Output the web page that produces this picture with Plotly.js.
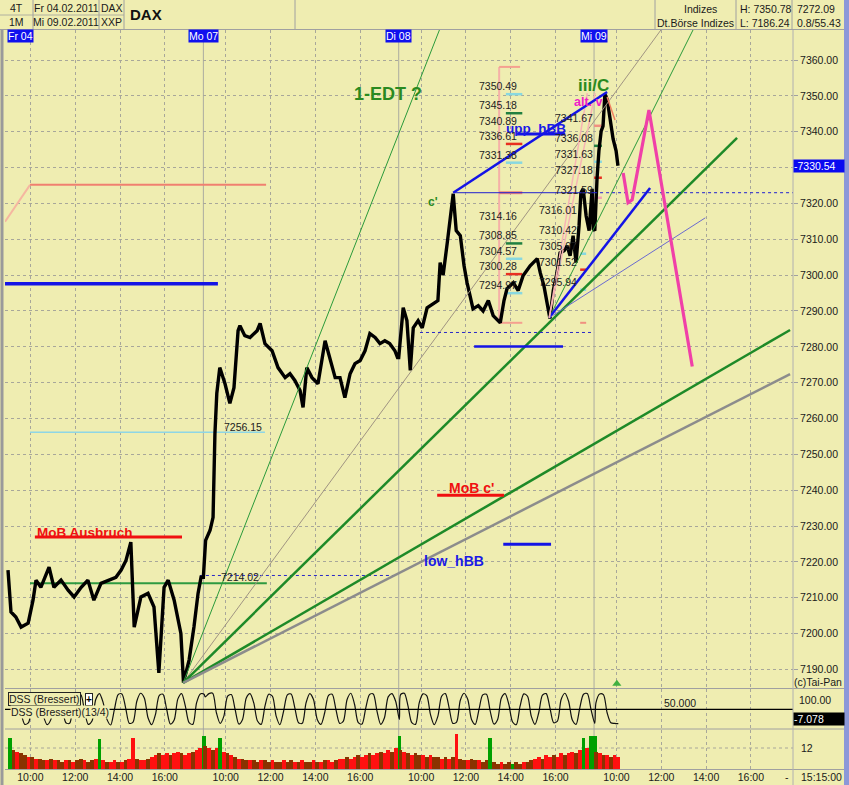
<!DOCTYPE html>
<html>
<head>
<meta charset="utf-8">
<script src="https://cdn.plot.ly/plotly-3.0.1.min.js"></script>
<style>
html,body{margin:0;padding:0;background:#EFEDB1;overflow:hidden}
#chart{width:849px;height:785px}
</style>
</head>
<body>
<div id="chart"></div>
<script>
// ================= DATA =================
const dayNames  = ['Fr','Mo','Di','Mi'];
const dayLabels = ['Fr 04','Mo 07','Di 08','Mi 09'];
const tickTimes = ['Fr 10:00','Fr 12:00','Fr 14:00','Fr 16:00','Mo 10:00','Mo 12:00','Mo 14:00','Mo 16:00',
                   'Di 10:00','Di 12:00','Di 14:00','Di 16:00','Mi 10:00','Mi 12:00','Mi 14:00','Mi 16:00'];
const tickLabels = ['10:00','12:00','14:00','16:00','10:00','12:00','14:00','16:00',
                    '10:00','12:00','14:00','16:00','10:00','12:00','14:00','16:00'];
const priceTicks = [7190,7200,7210,7220,7230,7240,7250,7260,7270,7280,7290,7300,7310,7320,7330,7340,7350,7360];
const lastPrice = 7330.54;

// DAX 1-minute chart, read as a close path
const priceTime = [
 'Fr 09:00','Fr 09:08','Fr 09:21','Fr 09:35','Fr 09:54','Fr 10:07','Fr 10:15','Fr 10:28','Fr 10:50','Fr 11:03',
 'Fr 11:22','Fr 11:41','Fr 11:57','Fr 12:16','Fr 12:34','Fr 12:50','Fr 13:09','Fr 13:28','Fr 13:49','Fr 14:03',
 'Fr 14:16','Fr 14:29','Fr 14:33','Fr 14:38','Fr 14:56','Fr 15:15','Fr 15:31','Fr 15:44','Fr 15:58','Fr 16:09',
 'Fr 16:25','Fr 16:43','Fr 16:50','Fr 17:05','Fr 17:18','Fr 17:29','Fr 17:37',
 'Mo 09:00','Mo 09:06','Mo 09:18','Mo 09:26','Mo 09:31','Mo 09:36','Mo 09:44','Mo 09:58','Mo 10:11','Mo 10:22',
 'Mo 10:33','Mo 10:38','Mo 10:51','Mo 11:05','Mo 11:24','Mo 11:32','Mo 11:45','Mo 12:04','Mo 12:20','Mo 12:39',
 'Mo 12:52','Mo 13:05','Mo 13:19','Mo 13:27','Mo 13:37','Mo 13:51','Mo 14:07','Mo 14:26','Mo 14:39','Mo 14:53',
 'Mo 15:06','Mo 15:19','Mo 15:33','Mo 15:46','Mo 16:00','Mo 16:13','Mo 16:26','Mo 16:40','Mo 16:53','Mo 17:06',
 'Mo 17:19','Mo 17:33','Mo 17:40',
 'Di 09:00','Di 09:12','Di 09:22','Di 09:31','Di 09:39','Di 09:52','Di 10:03','Di 10:16','Di 10:32','Di 10:45',
 'Di 10:51','Di 10:59','Di 11:10','Di 11:18','Di 11:26','Di 11:34','Di 11:45','Di 11:55','Di 12:03','Di 12:19',
 'Di 12:33','Di 12:46','Di 13:00','Di 13:13','Di 13:32','Di 13:42','Di 13:50','Di 14:07','Di 14:20','Di 14:33',
 'Di 14:52','Di 15:11','Di 15:19','Di 15:29','Di 15:40','Di 15:45','Di 15:54','Di 16:04','Di 16:12','Di 16:23',
 'Di 16:31','Di 16:39','Di 16:47','Di 16:55','Di 17:03','Di 17:08','Di 17:14','Di 17:22','Di 17:30','Di 17:38','Di 17:41',
 'Mi 09:02','Mi 09:08','Mi 09:13','Mi 09:19','Mi 09:24','Mi 09:29','Mi 09:35','Mi 09:43','Mi 09:51','Mi 09:59','Mi 10:04'];
const priceClose = [
 7217.7,7206.0,7204.6,7201.8,7202.9,7209.3,7214.9,7212.9,7218.5,7212.9,
 7214.9,7212.1,7210.2,7212.9,7214.9,7209.3,7214.0,7214.9,7215.7,7217.7,
 7220.4,7225.5,7214.0,7201.8,7210.2,7211.2,7207.4,7189.0,7212.9,7214.9,
 7209.3,7200.0,7186.3,7192.6,7201.8,7211.2,7215.7,
 7215.7,7226.0,7228.8,7232.4,7255.8,7267.0,7274.2,7269.7,7264.2,7268.6,
 7284.5,7285.9,7283.1,7282.6,7284.5,7286.5,7280.9,7278.9,7274.2,7271.4,
 7272.5,7270.6,7267.8,7263.1,7274.2,7271.4,7269.7,7281.7,7277.0,7271.4,
 7271.4,7265.8,7272.5,7275.3,7276.2,7278.9,7283.7,7282.6,7280.9,7281.7,
 7280.9,7278.9,7277.0,
 7277.0,7290.9,7287.3,7273.4,7285.3,7287.3,7285.3,7290.9,7292.0,7292.9,
 7303.5,7300.0,7309.0,7316.5,7322.7,7312.4,7311.0,7302.6,7297.9,7290.6,
 7291.5,7290.0,7292.9,7288.7,7286.7,7292.9,7296.2,7297.9,7295.7,7299.8,
 7302.6,7304.6,7300.7,7297.0,7290.0,7287.9,7295.7,7300.7,7306.2,7306.8,
 7308.2,7305.4,7311.0,7303.5,7313.8,7323.0,7324.1,7316.5,7312.4,7324.1,7312.9,
 7312.4,7327.1,7334.7,7340.2,7341.6,7350.5,7349.1,7343.6,7338.0,7334.7,7330.5];

// volume, 10-minute buckets (panel units, 12 = grid line)
const volFr = [18,11,10,9,8,7, 7,6,6,5,5,6, 5,5,4,5,5,4, 5,6,5,4,5,6, 17, 5,4,4,5,4,4,5,6, 18, 6,5,5,6,7,8,9,8, 9,8,9,10,9,8,9,10,11,12, 19];
const volMo = [13,12,11,12,18,10, 9,8,7,6,6,5, 5,5,4,5,5,4,5,4,4,5,4,5, 4,4,5,4,4,5,4,4,5,5,4,5, 6,6,7,6,7,8,7,8,9,8, 9,10,9,11,10,12, 19];
const volDi = [11,10,9,8,9,8, 8,7,8,7,7,6,7,6,7, 20, 6,5,5,6,5,5,4,5, 18, 4,3,4,3,4,3,4,3,4,4,5, 6,7,6,8,7,8,7,9,8,9,10,9,11, 18, 12,19,19];
const volMi = [10,9,8,8,7,8,7];
const volDirFr = 'gbrbbrbrbbrbrbbrbrbbrbbrgrbrrbrbrrbrrbrrbrrbrrbrrbrrg';
const volDirMo = 'brbrg'+'rbrbrbbrbbrbbrbbrbbrbrbbrbrbrrbrrbrrbrrbrrbrrbr'+'g';
const volDirDi = 'brbrbbrbrbbrbrbrbbrbbrbbgbbrbbgbbrbbrrbrrbrrbrrbrgrgg';
const volDirMi = 'brbrbrr';

// DSS (Bressert) 13/4, 10-minute samples
const dssFr = [60,95,98,40,5,10,70,97,90,30, 4,20,85,99,60,10,8,65,96,95, 45,5,15,80,98,70,20,3,50,95, 97,55,8,12,75,99,85,25,4,35, 92,96,50,6,18,82,98,60,10,5, 70,97,96];
const dssMo = [88,98,99,40,8,30,90,95,50,6, 20,85,98,70,15,5,60,96,90,30, 4,45,94,97,55,10,8,70,98,80, 20,5,40,92,96,50,8,15,80,99, 65,10,6,55,95,97,45,5,25,88, 98,75,20];
const dssDi = [95,99,60,10,5,70,97,92,35,4, 30,90,98,55,8,12,78,99,80,20, 5,50,94,96,45,6,20,85,98,65, 12,4,60,97,90,30,5,40,93,98, 55,10,15,80,99,75,18,5,55,96, 98,50,8];
const dssMi = [70,97,95,40,10,8,7];
const dssMid = 50;

// horizontal levels
const mobAusbruch = 7226.9, greenLevel = 7214.0, gapLevel = 7216.2, cyanLevel = 7256.15, blueOld = 7297.6;
const salmonTime = ['Fr 08:52','Fr 09:59','Mo 11:48'], salmonPrice = [7314.9,7325.2,7325.2];
const cHighTime = 'Di 11:26', cHigh = 7323.0, iiiCTime = 'Mi 09:35', iiiC = 7351.1;
const dayLow2Time = 'Di 15:43', dayLow2 = 7288.1;
const lowLevel = 7284.0, uppHBB = 7339.4, lowHBB = 7224.9, mobC = 7238.55, lowBlue = 7280.1;
const fanOriginTime = 'Fr 16:49', fanOrigin = 7186.24;
const fan1EndTime = ['Di 10:49','Mi 11:59','Mi 15:23','Mi 17:45','Mi 17:45'];
const fan1EndPrice = [7368.4,7368.4,7338.3,7284.7,7272.4];
const fan2EndTime = ['Mi 13:25','Mi 11:30','Mi 13:58','Di 17:25','Mi 09:03'];
const fan2EndPrice = [7368.4,7324.3,7316.0,7350.8,7350.8];
const projTime = ['Mi 10:18','Mi 10:31','Mi 10:42','Mi 11:27','Mi 13:23'];
const projPrice = [7328.5,7320.2,7321.0,7346.1,7274.5];
const fibA = [7350.49,7345.18,7340.89,7336.61,7331.38,7314.16,7308.85,7304.57,7300.28,7294.97];
const fibB = [7341.67,7336.08,7331.63,7327.18,7321.59,7316.01,7310.42,7305.97,7301.52,7295.94];
const bracketTop = 7358.1, bracketBottom = 7286.7;

// ================= RENDER =================
const SESSION = 8.72;
function tx(s){const p=s.split(' ');const hm=p[1].split(':');return dayNames.indexOf(p[0])*SESSION+(+hm[0])+(+hm[1])/60-9;}
function sessionTimes(day,n){const o=[];for(let i=0;i<n;i++){const m=540+i*10;o.push(day+' '+String(Math.floor(m/60)).padStart(2,'0')+':'+String(m%60).padStart(2,'0'));}return o;}
function P(px){return (px-5)/788;}
function Q(py){return (769-py)/739;}

const BG='#EFEDB1', GRID='#A8A79A', FONT='Arial, "Liberation Sans", sans-serif';
const traces=[];
function line(ts,ps,color,width,dash,axis){traces.push({type:'scatter',mode:'lines',x:ts.map(tx),y:ps,
  line:{color:color,width:width,dash:dash||'solid'},hoverinfo:'skip',xaxis:'x',yaxis:axis||'y'});}

// volume
const vTimes=[].concat(sessionTimes('Fr',volFr.length),sessionTimes('Mo',volMo.length),sessionTimes('Di',volDi.length),sessionTimes('Mi',volMi.length));
const vVals=[].concat(volFr,volMo,volDi,volMi);
const vDir=(volDirFr+volDirMo+volDirDi+volDirMi).split('');
const dirCol={r:'#FF1010',g:'#00A000',b:'#8A3300'};
traces.push({type:'bar',x:vTimes.map(t=>tx(t)+1/12),y:vVals,width:1/6,marker:{color:vDir.map(d=>dirCol[d]),line:{width:0}},
  xaxis:'x',yaxis:'y3',hoverinfo:'skip'});
// DSS
const dTimes=[].concat(sessionTimes('Fr',dssFr.length),sessionTimes('Mo',dssMo.length),sessionTimes('Di',dssDi.length),sessionTimes('Mi',dssMi.length));
traces.push({type:'scatter',mode:'lines',x:dTimes.map(t=>tx(t)+1/12),y:[].concat(dssFr,dssMo,dssDi,dssMi),
  line:{color:'#111',width:1.2,shape:'spline',smoothing:0.8},xaxis:'x',yaxis:'y2',hoverinfo:'skip'});
line(['Fr 08:50','Mi 18:00'],[dssMid,dssMid],'#000',1.2,'solid','y2');

// horizontal levels (left side)
line(salmonTime.slice(0,2),salmonPrice.slice(0,2),'#F5B6A0',2);
line(salmonTime.slice(1),salmonPrice.slice(1),'#F08070',2);
line(['Fr 08:52','Mo 09:39'],[blueOld,blueOld],'#1414E6',3.5);
line(['Fr 09:59','Mo 11:45'],[cyanLevel,cyanLevel],'#8ED6E6',1.5);
line(['Fr 17:34','Mo 17:39'],[gapLevel,gapLevel],'#2828C8',1,'3px,3px');
line(['Fr 09:59','Mo 11:50'],[greenLevel,greenLevel],'#2E9A40',2);
line(['Fr 10:12','Fr 16:46'],[mobAusbruch,mobAusbruch],'#F01010',3);

// fib bracket A
line(['Di 13:29','Di 13:29'],[bracketTop,bracketBottom],'#F5B0A8',2);
line(['Di 13:29','Di 14:25'],[bracketTop,bracketTop],'#F5A090',2);
line(['Di 13:29','Di 14:31'],[bracketBottom,bracketBottom],'#F5A090',2);
line(['Di 13:29','Di 14:31'],[cHigh,cHigh],'#F08878',3);
const fibAcol=['#88D8E0','#208040',null,'#E83020','#88D8E0',null,'#208040','#88D8E0','#E83020','#88D8E0'];
fibA.forEach((v,i)=>{if(fibAcol[i]) line(['Di 13:47','Di 14:31'],[v,v],fibAcol[i],2.5);});
const fibBcol=['#F09080','#208040','#88D8E0','#E83020','#F4A0B0',null,null,'#88D8E0','#E83020','#88D8E0'];
fibB.forEach((v,i)=>{if(!fibBcol[i])return; const t=i<5?['Mi 09:00','Mi 09:21']:['Di 17:06','Di 17:22']; line(t,[v,v],fibBcol[i],2.5);});
line(['Di 17:06','Di 17:22'],[bracketBottom,bracketBottom],'#F09080',2);

// price
traces.push({type:'scatter',mode:'lines',x:priceTime.map(tx),y:priceClose,line:{color:'#000',width:3.4},xaxis:'x',yaxis:'y',hoverinfo:'skip'});

// fan from Friday low
const f1col=['#2A9A3A','#A09482','#1E8A28','#1E8A28','#8C8C8C'], f1w=[1,1,2.5,2.5,2.5];
fan1EndTime.forEach((t,i)=>line([fanOriginTime,t],[fanOrigin,fan1EndPrice[i]],f1col[i],f1w[i]));
// fan from Tuesday low
const f2col=['#2A9A3A','#1414E6','#6A6AD0','#F7B4B4','#F7B4B4'], f2w=[1,2.5,1,1.5,1.5];
fan2EndTime.forEach((t,i)=>line([dayLow2Time,t],[dayLow2,fan2EndPrice[i]],f2col[i],f2w[i]));

// c' structure
line([cHighTime,iiiCTime],[cHigh,iiiC],'#1414E6',2.5);
line([cHighTime,'Mi 09:00'],[cHigh,cHigh],'#2020D0',1);
line(['Mi 09:00','Mi 18:00'],[cHigh,cHigh],'#2020D0',1,'3px,3px');
line(['Di 09:57','Mi 09:00'],[lowLevel,lowLevel],'#2828C8',1,'3px,3px');
line(['Di 14:17','Di 16:26'],[uppHBB,uppHBB],'#1414E6',3);
line(['Di 12:22','Di 16:20'],[lowBlue,lowBlue],'#1414E6',2.5);
line(['Di 10:43','Di 13:42'],[mobC,mobC],'#F01010',3);
line(['Di 13:40','Di 15:48'],[lowHBB,lowHBB],'#1414E6',3);
line(['Mi 09:35','Mi 09:56'],[7349.7,7343.3],'#F08060',1.5);
line(projTime,projPrice,'#F040A8',3.2);

// green marker at the bottom of price panel
traces.push({type:'scatter',mode:'markers',x:[tx('Mi 10:01')],y:[7186.0],marker:{symbol:'triangle-up',size:8,color:'#40B040'},
  cliponaxis:false,xaxis:'x',yaxis:'y',hoverinfo:'skip'});

// ---------- annotations ----------
const ann=[];
function txt(text,px,py,o){ann.push(Object.assign({text:text,xref:'paper',yref:'paper',x:P(px),y:Q(py),showarrow:false,
  xanchor:'center',yanchor:'middle',font:{family:FONT,size:10.5,color:'#1a1a1a'}},o||{}));}
// header
txt('4T',16,8); txt('1M',16,22);
txt('Fr 04.02.2011',66,8); txt('Mi 09.02.2011',66,22);
txt('DAX',112,8); txt('XXP',112,22);
txt('<b>DAX</b>',128,14,{xanchor:'left',font:{family:FONT,size:15,color:'#111'}});
txt('Indizes',700,9); txt('Dt.Börse Indizes',695,23);
txt('H: 7350.78',738,9,{xanchor:'left'}); txt('L: 7186.24',738,23,{xanchor:'left'});
txt('7272.09',795,9,{xanchor:'left'}); txt('0.8/55.43',795,23,{xanchor:'left'});
// day labels
dayLabels.forEach((d,i)=>{const px=8+22.4*tx(dayNames[i]+' 09:00');
  txt(d,i===0?7:px,35.5,{xanchor:i===0?'left':'center',bgcolor:'#1010EE',borderpad:0,font:{family:FONT,size:10.5,color:'#fff'}});});
// chart texts
txt('<b>1-EDT ?</b>',388,94,{font:{family:FONT,size:18,color:'#2A8A20'}});
txt("<b>c'</b>",433,202,{font:{family:FONT,size:12,color:'#2A8A20'}});
txt('<b>upp_hBB</b>',536,128,{font:{family:FONT,size:13.5,color:'#1A1AE6'}});
txt('<b>iii/C</b>',593,85,{font:{family:FONT,size:17,color:'#2A8A20'}});
txt('<b>alt. v</b>',588,102,{font:{family:FONT,size:12.5,color:'#F020C8'}});
txt('<b>MoB Ausbruch</b>',85,532,{font:{family:FONT,size:13.5,color:'#F01010'}});
txt("<b>MoB c'</b>",471,488,{font:{family:FONT,size:14,color:'#F01010'}});
txt('<b>low_hBB</b>',454,561,{font:{family:FONT,size:14,color:'#1A1AE6'}});
txt('7256.15',243,427,{font:{family:FONT,size:10.5,color:'#222'}});
txt('7214.02',240,577,{font:{family:FONT,size:10.5,color:'#222'}});
fibA.forEach(v=>ann.push({text:v.toFixed(2),xref:'x',yref:'y',x:tx('Di 12:30'),y:v,yshift:8,xanchor:'left',yanchor:'middle',showarrow:false,font:{family:FONT,size:10.5,color:'#222'}}));
fibB.forEach((v,i)=>ann.push({text:v.toFixed(2),xref:'x',yref:'y',x:tx(i<5?'Di 15:53':'Di 15:11'),y:v,yshift:8,xanchor:'left',yanchor:'middle',showarrow:false,font:{family:FONT,size:10.5,color:'#222'}}));
// right column
ann.push({text:'-'+lastPrice.toFixed(2),xref:'paper',yref:'y',x:P(793),y:lastPrice,xanchor:'left',yanchor:'middle',showarrow:false,
  bgcolor:'#0A0AF0',width:50,align:'left',borderpad:0,font:{family:FONT,size:10.5,color:'#fff'}});
txt('(c)Tai-Pan',818,682);
txt('100.00',797,700,{xanchor:'left'});
txt('-7.078',793,719,{xanchor:'left',bgcolor:'#000',width:50,align:'left',borderpad:0,font:{family:FONT,size:10.5,color:'#fff'}});
txt('12',799,748,{xanchor:'left'});
txt('-',787,777); txt('15:15:00',799,777,{xanchor:'left'});
txt('50.000',680,703);
// DSS legend
txt('DSS (Bressert)',8,699,{xanchor:'left',bgcolor:BG,bordercolor:'#222',borderwidth:1,borderpad:0});
txt('<b>+</b>',85,699,{xanchor:'left',bgcolor:'#fff',bordercolor:'#222',borderwidth:1,borderpad:0,font:{family:FONT,size:10,color:'#000'}});
txt('DSS (Bressert)(13/4)',10,712,{xanchor:'left',bgcolor:BG,borderpad:0});

// ---------- shapes ----------
const shp=[];
function pl(x0,y0,x1,y1,color,w,dash){shp.push({type:'line',xref:'paper',yref:'paper',x0:P(x0),y0:Q(y0),x1:P(x1),y1:Q(y1),line:{color:color,width:w||1,dash:dash||'solid'},layer:'above'});}
// header grid
pl(0,29.5,849,29.5,'#A0A0A0',1);
pl(0,15,124,15,'#B0B0A0',1);
[33,99,124,295,655,736,792].forEach(x=>pl(x,0,x,29.5,'#A0A0A0',1));
// panel separators
pl(5,688.5,844,688.5,'#A0A0A0',1);
pl(5,729,844,729,'#A0A0A0',1);
pl(5,769.5,844,769.5,'#A0A0A0',1);
pl(793,30,793,785,'#B0B0B0',1);
// borders
pl(2,30,2,785,'#9A9A9A',3);
shp.push({type:'rect',xref:'paper',yref:'paper',x0:P(844),x1:P(850),y0:Q(786),y1:Q(-1),fillcolor:'#8C98D8',line:{width:0},layer:'above'});
// day separators
[1,2,3].forEach(d=>shp.push({type:'line',xref:'x',yref:'paper',x0:d*SESSION,x1:d*SESSION,y0:0,y1:1,line:{color:'#ABABA0',width:1},layer:'below'}));
// volume grid at 12
shp.push({type:'line',xref:'paper',yref:'y3',x0:0,x1:1,y0:12,y1:12,line:{color:GRID,width:1,dash:'3px,3px'},layer:'below'});

const layout={
  width:849,height:785,margin:{l:5,r:56,t:30,b:16,pad:0},
  paper_bgcolor:BG,plot_bgcolor:BG,showlegend:false,hovermode:false,bargap:0,
  font:{family:FONT,size:10.5,color:'#1a1a1a'},
  xaxis:{domain:[0,1],anchor:'y3',range:[-0.134,35.04],tickmode:'array',tickvals:tickTimes.map(tx),ticktext:tickLabels,
    showgrid:true,gridcolor:GRID,gridwidth:1,griddash:'3px,3px',zeroline:false,showline:false,ticks:'',
    tickfont:{family:FONT,size:10.5,color:'#1a1a1a'},fixedrange:true},
  yaxis:{domain:[0.1096,1],range:[7184.8,7368.4],side:'right',anchor:'x',tickmode:'array',tickvals:priceTicks,
    ticktext:priceTicks.map(v=>Math.abs(v-lastPrice)<6?'':v.toFixed(2)),
    showgrid:true,gridcolor:GRID,gridwidth:1,griddash:'3px,3px',ticks:'outside',ticklen:4,tickcolor:'#A0A0A0',
    zeroline:false,showline:false,tickfont:{family:FONT,size:10.5,color:'#1a1a1a'},fixedrange:true},
  yaxis2:{domain:[0.0555,0.1083],range:[-6,112],anchor:'x',showticklabels:false,showgrid:false,zeroline:false,fixedrange:true},
  yaxis3:{domain:[0,0.0528],range:[0,22.3],anchor:'x',showticklabels:false,showgrid:false,zeroline:false,fixedrange:true},
  shapes:shp,annotations:ann
};
Plotly.newPlot('chart',traces,layout,{staticPlot:true,displayModeBar:false});
</script>
</body>
</html>
